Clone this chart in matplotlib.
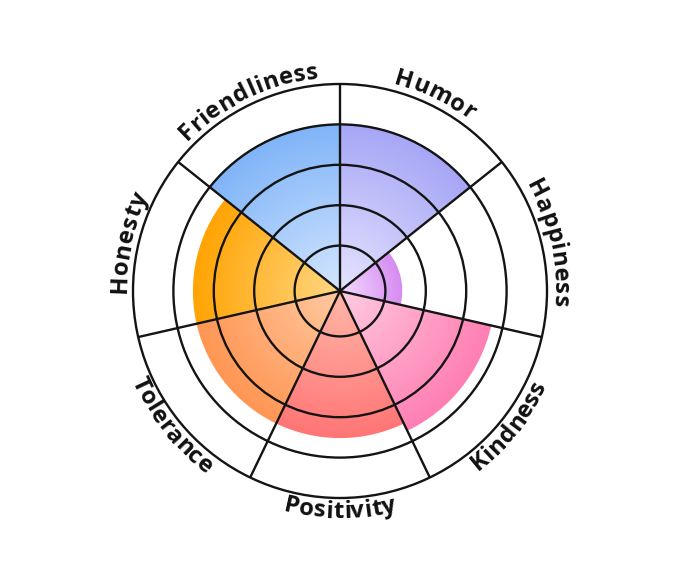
import numpy as np
import matplotlib.pyplot as plt
from matplotlib.patches import Wedge, Circle, Arc
from matplotlib.font_manager import FontProperties, findfont, get_font

# data (clockwise from 12 o'clock)
labels = ['Humor', 'Happiness', 'Kindness', 'Positivity', 'Tolerance', 'Honesty', 'Friendliness']
values = [4, 1.4, 3.7, 3.5, 3.5, 3.5, 4]
ring_ticks = [1, 2, 3, 4, 5]
inner_colors = ['#e6e4ff', '#f2dcff', '#ffcce2', '#ffb8a8', '#ffcaa2', '#ffd884', '#d4e6ff']
outer_colors = ['#a6a6f6', '#d68cf0', '#ff7fb2', '#ff7676', '#ff9654', '#ffa404', '#80b4f8']

cx, cy = 340, 284      # centre in pixels
r0, step = 5, 40.4     # radial scale
line_col = '#141414'

def rad(v):
    return r0 + v * step

def hex2rgb(h):
    return np.array([int(h[i:i + 2], 16) for i in (1, 3, 5)]) / 255.0

fig = plt.figure(figsize=(6.8, 5.75), dpi=100)
ax = fig.add_axes([0, 0, 1, 1])

n = len(labels)
w = 360 / n
for i, v in enumerate(values):
    a2 = 90 - i * w; a1 = a2 - w
    R = rad(v)
    xs = np.linspace(cx - R, cx + R, 400)
    ys = np.linspace(cy - R, cy + R, 400)
    X, Y = np.meshgrid(xs, ys)
    t = np.clip(np.hypot(X - cx, Y - cy) / R, 0, 1)[..., None]
    img = hex2rgb(inner_colors[i]) * (1 - t) + hex2rgb(outer_colors[i]) * t
    im = ax.imshow(img, extent=(cx - R, cx + R, cy - R, cy + R), origin='lower',
                   interpolation='bilinear', zorder=1)
    wd = Wedge((cx, cy), R, a1, a2, facecolor='none', edgecolor='none')
    ax.add_patch(wd)
    im.set_clip_path(wd)
    ax.add_patch(Arc((cx, cy), 2 * R, 2 * R, theta1=a1, theta2=a2,
                     color=outer_colors[i], lw=1.0, zorder=2))

# grid
Rmax = rad(ring_ticks[-1])
for k in ring_ticks:
    ax.add_patch(Circle((cx, cy), rad(k), fill=False, ec=line_col, lw=1.7, zorder=3))
for i in range(n):
    a = np.radians(90 - i * w)
    ax.plot([cx, cx + Rmax * np.cos(a)], [cy, cy + Rmax * np.sin(a)],
            color=line_col, lw=1.7, zorder=3, solid_capstyle='butt')

# curved labels
fsize = 17.2
fp = FontProperties(family=['Open Sans', 'DejaVu Sans'], weight='bold', size=fsize)
font = get_font(findfont(fp))
font.set_size(fsize, 100)
spacing = 0.4

for i, lab in enumerate(labels):
    mid = 90 - (i + 0.5) * w
    advs = []
    for c in lab:
        g = font.load_char(ord(c))
        advs.append(g.linearHoriAdvance / 65536 + spacing)
    advs = np.array(advs)
    total = advs.sum()
    centers = np.cumsum(advs) - advs / 2 - total / 2
    upper = np.sin(np.radians(mid)) > 0
    Rb = 214 if upper else 227
    for c, s in zip(lab, centers):
        if upper:
            th = np.radians(mid) - s / Rb
            rot = np.degrees(th) - 90
        else:
            th = np.radians(mid) + s / Rb
            rot = np.degrees(th) + 90
        ax.text(cx + Rb * np.cos(th), cy + Rb * np.sin(th), c, fontproperties=fp,
                rotation=rot, rotation_mode='anchor', ha='center', va='baseline',
                color='#111111', zorder=4)

ax.set_xlim(0, 680)
ax.set_ylim(0, 575)
ax.set_aspect('equal')
ax.axis('off')
fig.savefig('out.png', dpi=100)
